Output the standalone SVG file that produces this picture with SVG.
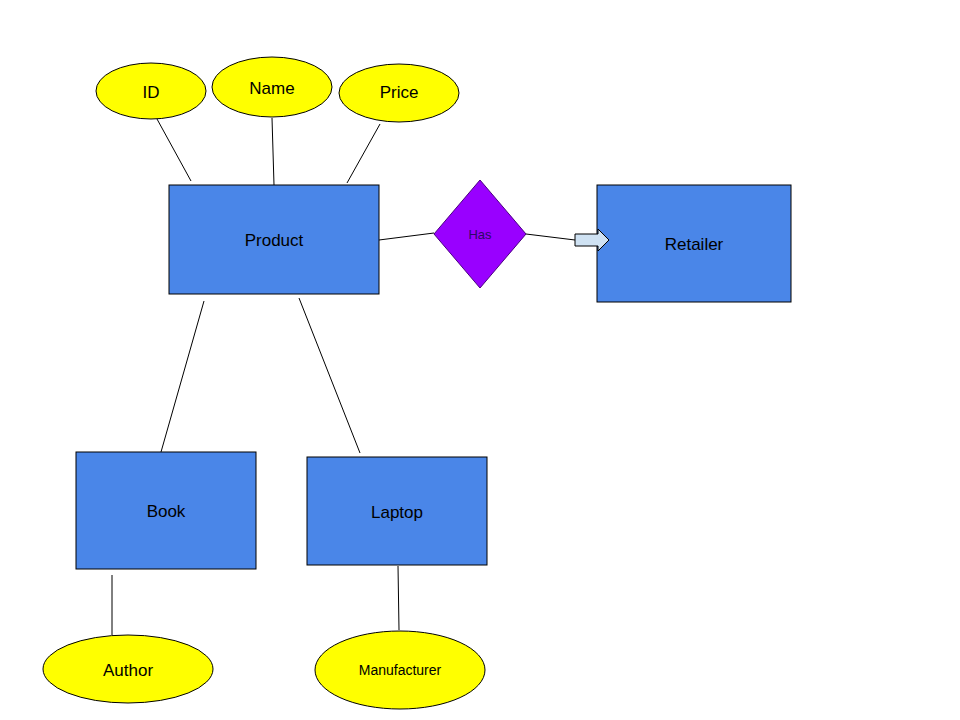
<svg xmlns="http://www.w3.org/2000/svg" width="960" height="720" viewBox="0 0 960 720">
<style>
.ent{fill:#4a86e8;stroke:#000;stroke-width:1}
.att{fill:#ffff00;stroke:#000;stroke-width:1}
.rel{fill:#9900ff;stroke:#4a0080;stroke-width:1}
.t{font-family:"Liberation Sans",Arial,sans-serif;font-size:17px;fill:#000;text-anchor:middle;dominant-baseline:central}
.con line{stroke:#000;stroke-width:1}
</style>
<rect width="960" height="720" fill="#fff"/>
<g id="product"><rect class="ent" x="169" y="185" width="210" height="109"/><text class="t" x="274" y="240">Product</text></g>
<g id="retailer"><rect class="ent" x="597" y="185" width="194" height="117"/><text class="t" x="694" y="244">Retailer</text></g>
<g id="book"><rect class="ent" x="76" y="452" width="180" height="117"/><text class="t" x="166" y="511">Book</text></g>
<g id="laptop"><rect class="ent" x="307" y="457" width="180" height="108"/><text class="t" x="397" y="512">Laptop</text></g>
<g id="has"><polygon class="rel" points="480,180 526,234 480,288 434,234"/><text class="t" x="480" y="234" style="font-size:13px;fill:#2e0866">Has</text></g>
<g id="id"><ellipse class="att" cx="151" cy="91" rx="55" ry="28"/><text class="t" x="151" y="92">ID</text></g>
<g id="name"><ellipse class="att" cx="272" cy="87" rx="60" ry="30"/><text class="t" x="272" y="88">Name</text></g>
<g id="price"><ellipse class="att" cx="399" cy="93" rx="60" ry="29"/><text class="t" x="399" y="92">Price</text></g>
<g id="author"><ellipse class="att" cx="128" cy="669" rx="85" ry="34"/><text class="t" x="128" y="670">Author</text></g>
<g id="manufacturer"><ellipse class="att" cx="400" cy="670" rx="85" ry="39"/><text class="t" x="400" y="670" style="font-size:14px">Manufacturer</text></g>
<g class="con" id="connectors">
<line x1="157" y1="119" x2="191" y2="181"/>
<line x1="272" y1="118" x2="274" y2="185"/>
<line x1="380" y1="124" x2="347" y2="183"/>
<line x1="379" y1="240" x2="434" y2="233"/>
<line x1="526" y1="234" x2="575" y2="240"/>
<line x1="204" y1="301" x2="161" y2="452"/>
<line x1="299" y1="298" x2="360" y2="453"/>
<line x1="112" y1="575" x2="112" y2="635"/>
<line x1="398" y1="566" x2="399" y2="630"/>
<path d="M575,234 H598 V229 L609,240 L598,251 V246 H575 Z" fill="#cfe2f3" stroke="#000" stroke-width="1"/>
</g>
</svg>
